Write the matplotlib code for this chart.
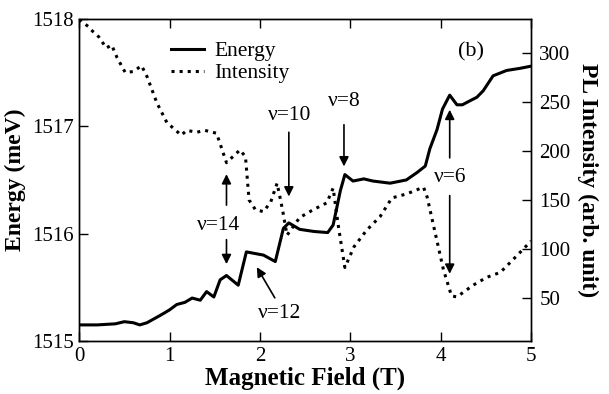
import matplotlib.pyplot as plt

plt.rcParams['font.family'] = ['Liberation Serif', 'DejaVu Serif']

# Energy (left axis, meV)
field_e = [0.0, 0.2, 0.4, 0.5, 0.6, 0.67, 0.75, 0.9, 1.0, 1.08, 1.17, 1.25, 1.34, 1.41, 1.49,
           1.56, 1.63, 1.76, 1.85, 2.04, 2.17, 2.26, 2.32, 2.44, 2.6, 2.75, 2.81, 2.89, 2.94,
           3.03, 3.15, 3.25, 3.44, 3.62, 3.74, 3.83, 3.88, 3.96, 4.02, 4.10, 4.18, 4.24,
           4.33, 4.40, 4.47, 4.58, 4.73, 4.88, 5.0]
energy = [1515.15, 1515.15, 1515.16, 1515.18, 1515.17, 1515.15, 1515.17, 1515.24, 1515.29,
          1515.34, 1515.36, 1515.40, 1515.38, 1515.46, 1515.41, 1515.57, 1515.61, 1515.52,
          1515.83, 1515.80, 1515.74, 1516.05, 1516.10, 1516.04, 1516.02, 1516.01, 1516.08,
          1516.40, 1516.55, 1516.49, 1516.51, 1516.49, 1516.47, 1516.50, 1516.57, 1516.63,
          1516.79, 1516.97, 1517.16, 1517.29, 1517.20, 1517.20, 1517.24, 1517.27, 1517.33,
          1517.47, 1517.52, 1517.54, 1517.56]

# PL intensity (right axis, arb. unit)
field_i = [0.0, 0.1, 0.15, 0.2, 0.22, 0.3, 0.36, 0.42, 0.51, 0.60, 0.69, 0.75, 0.86, 0.97,
           1.13, 1.19, 1.30, 1.39, 1.52, 1.63, 1.78, 1.84, 1.88, 1.95, 2.04, 2.12, 2.19,
           2.25, 2.30, 2.44, 2.59, 2.74, 2.81, 2.87, 2.94, 3.04, 3.18, 3.33, 3.46, 3.62,
           3.81, 3.85, 3.94, 4.03, 4.12, 4.18, 4.36, 4.51, 4.66, 4.80, 5.0]
intensity = [334, 327, 322, 318, 316, 305, 308, 295, 280, 281, 287, 276, 249, 229, 216, 221,
             219, 221, 218, 188, 201, 194, 150, 140, 138, 148, 167, 140, 114, 132, 140, 147,
             162, 122, 81, 102, 119, 133, 152, 156, 163, 153, 116, 79, 52, 51, 63, 71, 76,
             89, 108]

fig, ax = plt.subplots(figsize=(6.09, 3.94), dpi=100)
fig.subplots_adjust(left=0.130, right=0.872, bottom=0.1345, top=0.952)
ax2 = ax.twinx()

l1, = ax.plot(field_e, energy, color='black', lw=2.2, label='Energy')
l2, = ax2.plot(field_i, intensity, color='black', lw=2.2, ls=':', label='Intensity')

ax.set_xlim(0, 5)
ax.set_ylim(1515, 1518)
ax2.set_ylim(6, 334.7)
ax.set_xticks([0, 1, 2, 3, 4, 5])
ax.set_yticks([1515, 1516, 1517, 1518])
ax2.set_yticks([50, 100, 150, 200, 250, 300])

ax.tick_params(direction='in', length=6.5, width=1, labelsize=15, top=True, pad=4)
ax2.tick_params(direction='in', length=6.5, width=1, labelsize=15, pad=6)
for a in (ax, ax2):
    for s in a.spines.values():
        s.set_linewidth(1)

ax.set_xlabel('Magnetic Field (T)', fontsize=18, fontweight='bold', labelpad=1)
ax.set_ylabel('Energy (meV)', fontsize=17, fontweight='bold', labelpad=4)
ax2.set_ylabel('PL Intensity (arb. unit)', fontsize=17, fontweight='bold',
               rotation=-90, labelpad=20)

ax.legend([l1, l2], ['Energy', 'Intensity'], loc='upper left', bbox_to_anchor=(0.165, 0.985),
          frameon=False, fontsize=15.5, handlelength=1.55, handletextpad=0.45,
          labelspacing=0.1, borderpad=0.3)

ax.text(4.34, 1517.69, '(b)', fontsize=16, ha='center', va='center')

arrow = dict(arrowstyle='-|>', color='black', lw=1.2, mutation_scale=14)
fs = 15.5
# nu = 14
ax.text(1.54, 1516.08, 'ν=14', fontsize=fs, ha='center', va='center')
ax.annotate('', xy=(1.63, 1516.58), xytext=(1.63, 1516.24), arrowprops=arrow)
ax.annotate('', xy=(1.63, 1515.69), xytext=(1.63, 1515.97), arrowprops=arrow)
# nu = 10
ax.text(2.33, 1517.1, 'ν=10', fontsize=fs, ha='center', va='center')
ax.annotate('', xy=(2.32, 1516.32), xytext=(2.32, 1516.97), arrowprops=arrow)
# nu = 8
ax.text(2.93, 1517.23, 'ν=8', fontsize=fs, ha='center', va='center')
ax.annotate('', xy=(2.93, 1516.60), xytext=(2.93, 1517.04), arrowprops=arrow)
# nu = 6
ax.text(4.1, 1516.52, 'ν=6', fontsize=fs, ha='center', va='center')
ax.annotate('', xy=(4.10, 1517.18), xytext=(4.10, 1516.68), arrowprops=arrow)
ax.annotate('', xy=(4.10, 1515.60), xytext=(4.10, 1516.38), arrowprops=arrow)
# nu = 12
ax.text(2.22, 1515.26, 'ν=12', fontsize=fs, ha='center', va='center')
ax.annotate('', xy=(1.95, 1515.71), xytext=(2.18, 1515.38), arrowprops=arrow)

fig.savefig('out.png', dpi=100)
